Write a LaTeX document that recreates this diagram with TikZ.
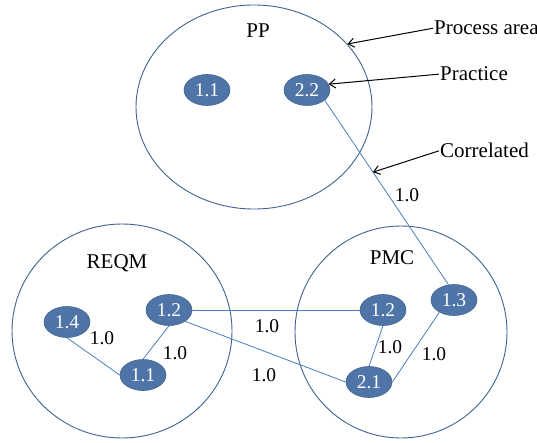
\documentclass[tikz,border=0pt]{standalone}
\usepackage{fontspec}
\setmainfont{Liberation Serif}
\usetikzlibrary{shapes.geometric,arrows.meta}
\definecolor{arealine}{HTML}{3E6390}
\definecolor{pfill}{HTML}{4F75A8}
\definecolor{pline}{HTML}{41648F}
\definecolor{link}{HTML}{4A7EBB}
\begin{document}
\begin{tikzpicture}[x=1pt,y=-1pt,
  area/.style={ellipse,draw=arealine,line width=0.9pt,inner sep=0pt},
  practice/.style={ellipse,fill=pfill,draw=pline,line width=0.6pt,
    minimum width=46pt,minimum height=31pt,inner sep=0pt,text=white,
    font=\fontsize{19.5}{22}\selectfont},
  areaname/.style={anchor=base,inner sep=0pt,font=\fontsize{21}{24}\selectfont},
  weight/.style={inner sep=0pt,font=\fontsize{19.5}{22}\selectfont},
  legend/.style={anchor=base west,inner sep=1pt,font=\fontsize{21}{24}\selectfont},
  corr/.style={draw=link,line width=0.8pt},
  pointer/.style={draw=black,line width=1pt,-{Straight Barb[length=6pt,width=9pt]}}]
\useasboundingbox (0,0) rectangle (537,443);

% process areas
\node[area,minimum width=236pt,minimum height=204pt] (PP) at (254,107) {};
\node[area,minimum width=220pt,minimum height=214pt] (REQM) at (122,331) {};
\node[area,minimum width=212pt,minimum height=212pt] (PMC) at (401,332) {};

\node[areaname] (tPP) at (258,38) {PP};
\node[areaname] (tREQM) at (117,268) {REQM};
\node[areaname] (tPMC) at (392,264) {PMC};

% practices
\node[practice] (pp11) at (207,90) {1.1};
\node[practice] (pp22) at (307,90) {2.2};
\node[practice] (rq14) at (67,322) {1.4};
\node[practice] (rq12) at (169,310) {1.2};
\node[practice] (rq11) at (143,375) {1.1};
\node[practice] (pm12) at (383,310) {1.2};
\node[practice] (pm13) at (454,300) {1.3};
\node[practice] (pm21) at (369,382) {2.1};

% correlations
\draw[corr] (pp22.-30) -- coordinate[pos=0.39] (ctip) (pm13.110);
\draw[corr] (rq14.south) -- (rq11.west);
\draw[corr] (rq11.north) -- (rq12.south);
\draw[corr] (rq12.east) -- (pm12.west);
\draw[corr] (rq12.-35) -- (pm21.west);
\draw[corr] (pm12.south) -- (pm21.north);
\draw[corr] (pm21.east) -- (pm13.220);

% weights
\node[weight] (w1) at (407,195) {1.0};
\node[weight] (w2) at (102,338) {1.0};
\node[weight] (w3) at (175,353) {1.0};
\node[weight] (w4) at (267,326) {1.0};
\node[weight] (w5) at (264,375) {1.0};
\node[weight] (w6) at (390,347) {1.0};
\node[weight] (w7) at (434,354) {1.0};

% legend
\node[legend] (lpa) at (433,35) {Process area};
\node[legend] (lpr) at (439,81) {Practice};
\node[legend] (lco) at (439,158) {Correlated};
\draw[pointer] (lpa.west) -- (PP.34);
\draw[pointer] (lpr.west) -- (pp22.15);
\draw[pointer] (lco.west) -- (ctip);
\end{tikzpicture}
\end{document}
